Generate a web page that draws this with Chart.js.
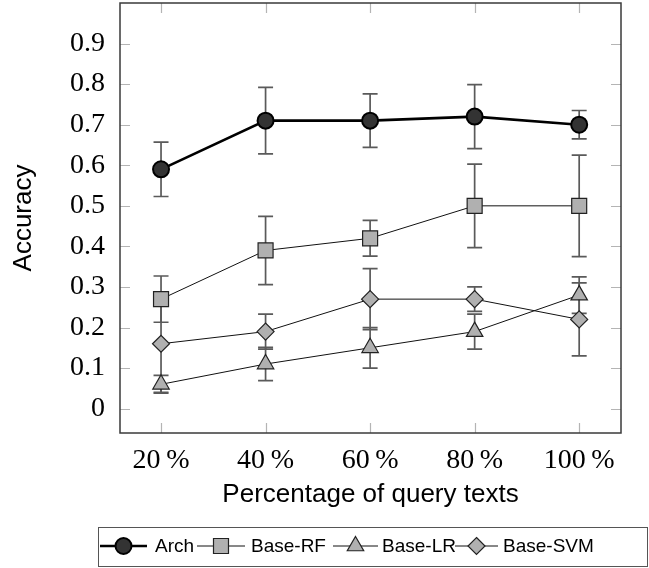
<!DOCTYPE html>
<html>
<head>
<meta charset="utf-8">
<script src="https://cdn.jsdelivr.net/npm/chart.js@4"></script>
<style>
html,body{margin:0;padding:0;background:#fff;}
#wrap{width:649px;height:568px;}
</style>
</head>
<body>
<div id="wrap"><canvas id="c" width="649" height="568"></canvas></div>
<script>
// ---- data ----
const xValues = [20, 40, 60, 80, 100];
const xLabels = ["20\u2009%", "40\u2009%", "60\u2009%", "80\u2009%", "100\u2009%"];
const yTicks = [0, 0.1, 0.2, 0.3, 0.4, 0.5, 0.6, 0.7, 0.8, 0.9];
const seriesNames = ["Arch", "Base-RF", "Base-LR", "Base-SVM"];
const archVals = [0.59, 0.71, 0.71, 0.72, 0.70];
const archErr  = [0.067, 0.082, 0.066, 0.079, 0.035];
const rfVals   = [0.27, 0.39, 0.42, 0.50, 0.50];
const rfErr    = [0.057, 0.084, 0.044, 0.103, 0.125];
const lrVals   = [0.06, 0.11, 0.15, 0.19, 0.28];
const lrErr    = [0.022, 0.041, 0.050, 0.043, 0.045];
const svmVals  = [0.16, 0.19, 0.27, 0.27, 0.22];
const svmErr   = [0.120, 0.043, 0.075, 0.030, 0.090];

const pts = vals => vals.map((v, i) => ({x: xValues[i], y: v}));
const errs = [archErr, rfErr, lrErr, svmErr];

// legend layout (symbol start, symbol length, text start)
const legendSymX = [100, 197, 333, 455];
const legendSymLen = [47, 48, 45, 43];
const legendTextX = [155, 251, 382, 503];

const grayFill = '#b0b0b0';
const datasets = [
  {label: seriesNames[0], data: pts(archVals), borderColor: '#000', borderWidth: 2.6,
   pointStyle: 'circle', pointRadius: 8, pointBackgroundColor: '#333333', pointBorderColor: '#000', pointBorderWidth: 2},
  {label: seriesNames[1], data: pts(rfVals), borderColor: '#111', borderWidth: 1,
   pointStyle: 'rect', pointRadius: 10.6, pointBackgroundColor: grayFill, pointBorderColor: '#222', pointBorderWidth: 1.2},
  {label: seriesNames[2], data: pts(lrVals), borderColor: '#111', borderWidth: 1,
   pointStyle: 'triangle', pointRadius: 9.5, pointBackgroundColor: grayFill, pointBorderColor: '#222', pointBorderWidth: 1.2},
  {label: seriesNames[3], data: pts(svmVals), borderColor: '#111', borderWidth: 1,
   pointStyle: 'rectRot', pointRadius: 8.5, pointBackgroundColor: grayFill, pointBorderColor: '#222', pointBorderWidth: 1.2}
];
datasets.forEach(d => { d.tension = 0; d.fill = false; d.pointHoverRadius = d.pointRadius; d.clip = false; });

function drawMarker(ctx, style, x, y, r, fill, stroke, lw) {
  ctx.save();
  ctx.fillStyle = fill; ctx.strokeStyle = stroke; ctx.lineWidth = lw;
  ctx.beginPath();
  if (style === 'circle') {
    ctx.arc(x, y, r, 0, Math.PI * 2);
  } else if (style === 'rect') {
    const s = r / Math.SQRT2;
    ctx.rect(x - s, y - s, 2 * s, 2 * s);
  } else if (style === 'triangle') {
    const a = -Math.PI / 2;
    for (let k = 0; k < 3; k++) {
      const ang = a + k * 2 * Math.PI / 3;
      const px = x + Math.cos(ang) * r, py = y + Math.sin(ang) * r;
      if (k === 0) ctx.moveTo(px, py); else ctx.lineTo(px, py);
    }
    ctx.closePath();
  } else if (style === 'rectRot') {
    ctx.moveTo(x, y - r); ctx.lineTo(x + r, y); ctx.lineTo(x, y + r); ctx.lineTo(x - r, y); ctx.closePath();
  }
  ctx.fill(); ctx.stroke();
  ctx.restore();
}

const decorPlugin = {
  id: 'decor',
  beforeDatasetsDraw(chart) {
    const ctx = chart.ctx, xs = chart.scales.x, ys = chart.scales.y, a = chart.chartArea;
    ctx.save();
    // inner tick marks
    ctx.strokeStyle = '#b4b4b4'; ctx.lineWidth = 1.2;
    yTicks.forEach(v => {
      const py = Math.round(ys.getPixelForValue(v)) + 0.5;
      ctx.beginPath(); ctx.moveTo(a.left, py); ctx.lineTo(a.left + 10, py);
      ctx.moveTo(a.right - 10, py); ctx.lineTo(a.right, py); ctx.stroke();
    });
    xValues.forEach(v => {
      const px = Math.round(xs.getPixelForValue(v)) + 0.5;
      ctx.beginPath(); ctx.moveTo(px, a.bottom); ctx.lineTo(px, a.bottom - 10);
      ctx.moveTo(px, a.top); ctx.lineTo(px, a.top + 10); ctx.stroke();
    });
    // error bars
    ctx.strokeStyle = '#5a5a5a'; ctx.lineWidth = 1.7;
    chart.data.datasets.forEach((d, di) => {
      d.data.forEach((p, i) => {
        const e = errs[di][i];
        const px = xs.getPixelForValue(p.x);
        const top = ys.getPixelForValue(p.y + e), bot = ys.getPixelForValue(p.y - e);
        ctx.beginPath();
        ctx.moveTo(px, top); ctx.lineTo(px, bot);
        ctx.moveTo(px - 7.5, top); ctx.lineTo(px + 7.5, top);
        ctx.moveTo(px - 7.5, bot); ctx.lineTo(px + 7.5, bot);
        ctx.stroke();
      });
    });
    ctx.restore();
  },
  afterDraw(chart) {
    const ctx = chart.ctx, a = chart.chartArea;
    ctx.save();
    // frame
    ctx.strokeStyle = '#3a3a3a'; ctx.lineWidth = 1.5;
    ctx.strokeRect(a.left, a.top, a.right - a.left, a.bottom - a.top);
    // legend
    const boxL = 98.5, boxT = 527.5, boxR = 647.5, boxB = 566.5;
    ctx.strokeStyle = '#555'; ctx.lineWidth = 1;
    ctx.strokeRect(boxL, boxT, boxR - boxL, boxB - boxT);
    ctx.font = '19px "Liberation Sans", Arial, sans-serif';
    ctx.textBaseline = 'middle'; ctx.textAlign = 'left'; ctx.fillStyle = '#000';
    const cy = 546;
    chart.data.datasets.forEach((d, i) => {
      const x = legendSymX[i], len = legendSymLen[i];
      ctx.strokeStyle = d.borderColor; ctx.lineWidth = d.borderWidth;
      ctx.beginPath(); ctx.moveTo(x, cy); ctx.lineTo(x + len, cy); ctx.stroke();
      drawMarker(ctx, d.pointStyle, x + len / 2, cy, d.pointRadius, d.pointBackgroundColor, d.pointBorderColor, d.pointBorderWidth);
      ctx.fillStyle = '#000';
      ctx.fillText(d.label, legendTextX[i], cy + 1);
    });
    ctx.restore();
  }
};

new Chart(document.getElementById('c'), {
  type: 'line',
  data: {datasets},
  plugins: [decorPlugin],
  options: {
    responsive: false,
    animation: false,
    events: [],
    layout: {autoPadding: false, padding: {left: 0, top: 3, right: 28, bottom: 60}},
    plugins: {legend: {display: false}, tooltip: {enabled: false}},
    scales: {
      x: {
        type: 'linear', min: 12.15, max: 108,
        grid: {display: false}, border: {display: false},
        afterBuildTicks: s => { s.ticks = xValues.map(v => ({value: v})); },
        afterFit: s => { s.height = 75; s.paddingLeft = 0; s.paddingRight = 0; },
        ticks: {padding: 3, color: '#000', maxRotation: 0, autoSkip: false,
          font: {family: '"Liberation Serif", "Times New Roman", serif', size: 28},
          callback: (v, i) => xLabels[i]},
        title: {display: true, text: 'Percentage of query texts', color: '#000',
          font: {family: '"Liberation Sans", Arial, sans-serif', size: 26}, padding: {top: 0, bottom: -2}}
      },
      y: {
        min: -0.06, max: 1.0,
        grid: {display: false}, border: {display: false},
        afterBuildTicks: s => { s.ticks = yTicks.map(v => ({value: v})); },
        afterFit: s => { s.width = 120; s.paddingTop = 0; s.paddingBottom = 0; },
        ticks: {padding: 7, color: '#000', autoSkip: false,
          font: {family: '"Liberation Serif", "Times New Roman", serif', size: 28},
          callback: v => (v === 0 ? '0' : v.toFixed(1))},
        title: {display: true, text: 'Accuracy', color: '#000',
          font: {family: '"Liberation Sans", Arial, sans-serif', size: 26}, padding: {top: 8, bottom: 0}}
      }
    }
  }
});
</script>
</body>
</html>
